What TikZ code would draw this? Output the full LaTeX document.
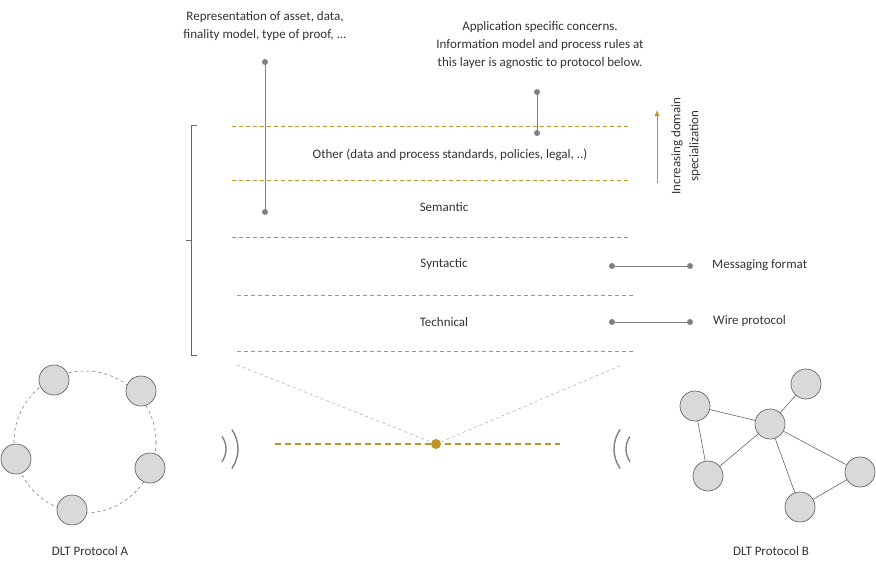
\documentclass[tikz,border=0pt]{standalone}
\usepackage{fontspec}
\setmainfont{Carlito}
\usetikzlibrary{arrows.meta}
\begin{document}
\begin{tikzpicture}[x=1pt,y=-1pt,font=\fontsize{13}{18}\selectfont,
  gr/.style={draw=black!50,line width=0.8pt},
  dot/.style={circle,fill=black!50,inner sep=0,minimum size=6pt},
  pn/.style={circle,draw=black!60,fill=black!15,minimum size=30pt,inner sep=0,line width=0.7pt},
  txt/.style={text=black!80,align=center,inner sep=0}]
\definecolor{gold}{RGB}{190,150,40}
\tikzset{lay/.style={draw=gold,dash pattern=on 4pt off 3pt,line width=0.8pt}}
\useasboundingbox (0,0) rectangle (876,570);
\node[txt] (t1) at (265,26) {Representation of asset, data,\\finality model, type of proof, ...};
\node[dot] (a1) at (265,62) {}; \node[dot] (a2) at (265,212) {};
\draw[gr] (a1) -- (a2);
\node[txt] (t2) at (540,45) {Application specific concerns.\\Information model and process rules at\\this layer is agnostic to protocol below.};
\node[dot] (b1) at (537,92) {}; \node[dot] (b2) at (537,133) {};
\draw[gr] (b1) -- (b2);
\coordinate (l1a) at (232,126); \coordinate (l1b) at (630,126);
\coordinate (l2a) at (232,180); \coordinate (l2b) at (630,180);
\coordinate (l3a) at (232,237); \coordinate (l3b) at (630,237);
\coordinate (l4a) at (237,295); \coordinate (l4b) at (635,295);
\coordinate (l5a) at (237,351); \coordinate (l5b) at (635,351);
\draw[lay] (l1a) -- (l1b);
\draw[lay] (l2a) -- (l2b);
\draw[lay] (l3a) -- (l3b);
\draw[lay] (l4a) -- (l4b);
\draw[lay] (l5a) -- (l5b);
\node[txt] (o) at (450,155) {Other (data and process standards, policies, legal, ..)};
\node[txt] (s) at (444,207) {Semantic};
\node[txt] (sy) at (444,264) {Syntactic};
\node[txt] (te) at (444,322) {Technical};
\draw[black!60,line width=0.7pt] (197,125) -- (191,125) -- (191,240) -- (186,240) (191,240) -- (191,355) -- (197,355);
\coordinate (ar1) at (657,183); \coordinate (ar2) at (657,110);
\draw[gold,line width=0.8pt,-{Latex[length=6pt,width=5pt]}] (ar1) -- (ar2);
\node[txt,rotate=90] (inc) at (686,146) {Increasing domain\\specialization};
\node[dot] (m1) at (612,266) {}; \node[dot] (m2) at (690,266) {};
\draw[gr] (m1) -- (m2);
\node[txt,anchor=west] (mt) at (712,265) {Messaging format};
\node[dot] (w1) at (612,322) {}; \node[dot] (w2) at (690,322) {};
\draw[gr] (w1) -- (w2);
\node[txt,anchor=west] (wt) at (713,321) {Wire protocol};
\node[circle,fill=gold,inner sep=0,minimum size=10pt] (c) at (436,444) {};
\coordinate (g1) at (275,444); \coordinate (g2) at (560,444);
\draw[gold,dash pattern=on 6pt off 4pt,line width=1.3pt] (g1) -- (g2);
\coordinate (v1) at (237,365); \coordinate (v2) at (622,365);
\draw[black!30,dashed,line width=0.6pt] (v1) -- (c) -- (v2);
\draw[black!50,line width=1.4pt] ([shift={(-35:22)}]204,449) arc[start angle=-35,end angle=35,radius=22];
\draw[black!50,line width=1.4pt] ([shift={(-35:34)}]204,449) arc[start angle=-35,end angle=35,radius=34];
\draw[black!50,line width=1.4pt] ([shift={(145:22)}]648,449) arc[start angle=145,end angle=215,radius=22];
\draw[black!50,line width=1.4pt] ([shift={(145:34)}]648,449) arc[start angle=145,end angle=215,radius=34];
\draw[black!50,dashed,line width=0.6pt] (85,442) circle[radius=71];
\foreach \n/\x/\y in {p1/54/380,p2/141/391,p3/150/468,p4/72/510,p5/16/459}{\node[pn] (\n) at (\x,\y) {};}
\foreach \n/\x/\y in {q1/695/406,q2/806/384,q3/770/424,q4/708/476,q5/860/472,q6/800/507}{\node[pn] (\n) at (\x,\y) {};}
\foreach \a/\b in {q1/q3,q2/q3,q3/q4,q3/q5,q3/q6,q6/q5,q1/q4}{\draw[black!60,line width=0.6pt] (\a) -- (\b);}
\node[txt] (da) at (90,551) {DLT Protocol A};
\node[txt] (db) at (771,551) {DLT Protocol B};
\end{tikzpicture}
\end{document}
